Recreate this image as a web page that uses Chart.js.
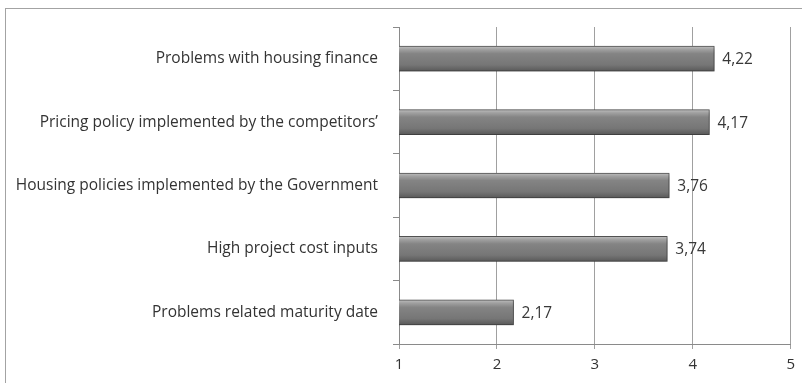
<!DOCTYPE html>
<html>
<head>
<meta charset="utf-8">
<script src="https://cdn.jsdelivr.net/npm/chart.js@4/dist/chart.umd.min.js"></script>
<style>
  html, body { margin: 0; padding: 0; background: #fff; overflow: hidden; }
  #wrap { position: relative; width: 802px; height: 383px; }
  #frame { position: absolute; left: 5px; top: 8px; width: 900px; height: 500px; border: 1px solid #a3a3a3; box-sizing: border-box; }
  #chart { position: absolute; left: 0; top: 0; }
</style>
</head>
<body>
<div id="wrap">
  <div id="frame"></div>
  <canvas id="chart" width="802" height="383"></canvas>
</div>
<script>
const categories = [
  'Problems with housing finance',
  'Pricing policy implemented by the competitors\u2019',
  'Housing policies implemented by the Government',
  'High project cost inputs',
  'Problems related maturity date'
];
const scores = [4.22, 4.17, 3.76, 3.74, 2.17];
const xTicks = ['1', '2', '3', '4', '5'];

const BAR_H = 25;
const FONT = '"Open Sans", Lato, sans-serif';

// grey bevelled bar fill, built per bar from the category scale
function barFill(ctx) {
  const chart = ctx.chart;
  const y = chart.scales.y;
  if (!y || ctx.dataIndex === undefined) return '#7a7a7a';
  const cy = y.getPixelForValue(ctx.dataIndex);
  if (!isFinite(cy)) return '#7a7a7a';
  const top = cy - BAR_H / 2;
  const g = chart.ctx.createLinearGradient(0, top, 0, top + BAR_H);
  g.addColorStop(0, '#c0c0c0');
  g.addColorStop(0.12, '#a2a2a2');
  g.addColorStop(0.3, '#848484');
  g.addColorStop(0.75, '#767676');
  g.addColorStop(1, '#595959');
  return g;
}

const barShadow = {
  id: 'barShadow',
  beforeDatasetDraw(chart) {
    const c = chart.ctx;
    c.save();
    c.shadowColor = 'rgba(0,0,0,0.35)';
    c.shadowBlur = 4;
    c.shadowOffsetX = 1;
    c.shadowOffsetY = 2;
  },
  afterDatasetDraw(chart) {
    chart.ctx.restore();
  }
};

const valueLabels = {
  id: 'valueLabels',
  afterDatasetsDraw(chart) {
    const c = chart.ctx;
    const meta = chart.getDatasetMeta(0);
    c.save();
    c.font = '15.5px ' + FONT;
    c.fillStyle = '#383838';
    c.textAlign = 'left';
    c.textBaseline = 'middle';
    meta.data.forEach((bar, i) => {
      const txt = scores[i].toFixed(2).replace('.', ',');
      c.fillText(txt, bar.x + 8, bar.y + 1);
    });
    c.restore();
  }
};

const chart = new Chart(document.getElementById('chart'), {
  type: 'bar',
  data: {
    labels: categories,
    datasets: [{
      data: scores,
      backgroundColor: barFill,
      borderColor: '#555',
      borderWidth: 1,
      barThickness: BAR_H,
      borderSkipped: false
    }]
  },
  options: {
    indexAxis: 'y',
    responsive: false,
    animation: false,
    layout: { padding: { top: 27, right: 11, left: 0, bottom: 0 } },
    plugins: {
      legend: { display: false },
      tooltip: { enabled: false }
    },
    scales: {
      x: {
        min: 1,
        max: 5,
        ticks: {
          stepSize: 1,
          padding: 7,
          color: '#333',
          font: { family: FONT, size: 15 },
          callback: (v, i) => xTicks[i]
        },
        grid: { color: '#a0a0a0', lineWidth: 1, tickLength: 5 },
        border: { color: '#8a8a8a' },
        afterFit(scale) { scale.height = 39; }
      },
      y: {
        ticks: {
          padding: 15,
          color: '#333',
          font: { family: FONT, size: 15.5 }
        },
        grid: { drawOnChartArea: false, color: '#8a8a8a', tickLength: 6 },
        border: { color: '#8a8a8a' },
        afterFit(scale) { scale.width = 399; }
      }
    }
  },
  plugins: [barShadow, valueLabels]
});
chart.update();
</script>
</body>
</html>
